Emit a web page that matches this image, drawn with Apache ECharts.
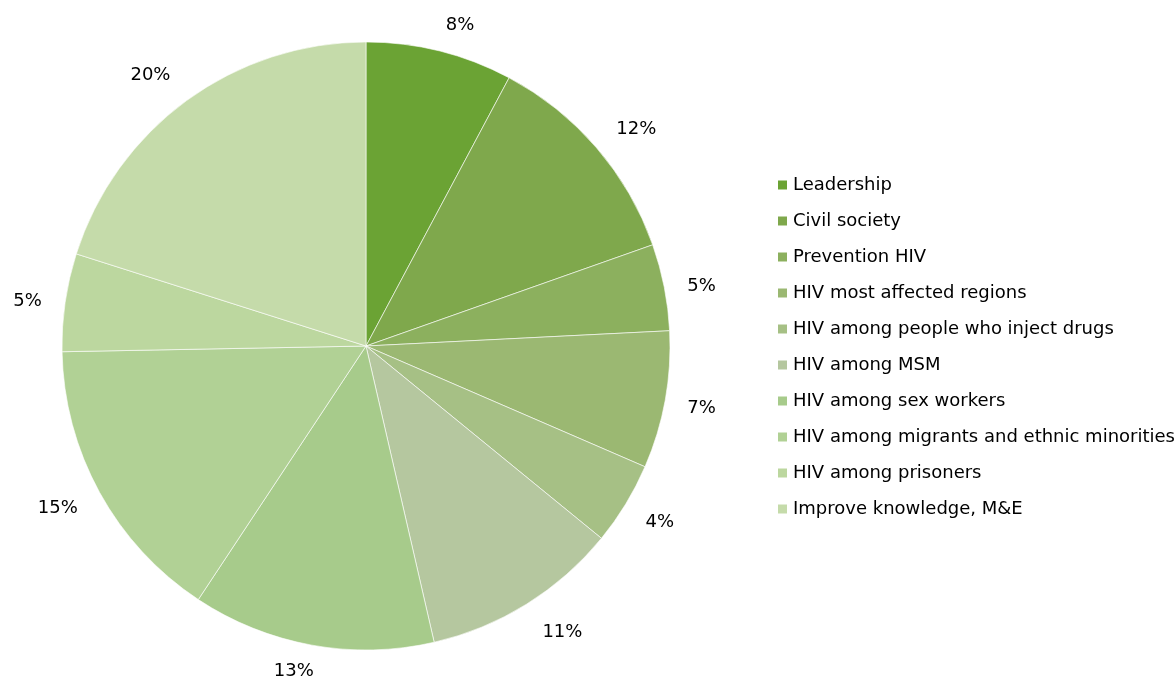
<!DOCTYPE html>
<html>
<head>
<meta charset="utf-8">
<script src="https://cdn.jsdelivr.net/npm/echarts@6/dist/echarts.min.js"></script>
<style>
  html, body { margin: 0; padding: 0; background: #fff; }
  #chart { width: 1176px; height: 681px; }
</style>
</head>
<body>
<div id="chart"></div>
<script>
// categories and shares (in %)
var categories = [
  'Leadership',
  'Civil society',
  'Prevention HIV',
  'HIV most affected regions',
  'HIV among people who inject drugs',
  'HIV among MSM',
  'HIV among sex workers',
  'HIV among migrants and ethnic minorities',
  'HIV among prisoners',
  'Improve knowledge, M&E'
];
var shares = [7.8, 11.8, 4.6, 7.3, 4.4, 10.5, 12.9, 15.4, 5.2, 20.1];
var colors = ['#6ba334', '#7fa84c', '#8cb05e', '#9bb872', '#a6c085',
              '#b5c79f', '#a7cb8b', '#b1d195', '#bcd79f', '#c5dbaa'];
// small nudges of the % labels, the original placed them a bit irregularly
var labelNudge = [[12, 7], [14, 4], [4, 6], [3, 2], [5, 1],
                  [18, -1], [-12, -7], [-12, -1], [-4, 4], [-16, 2]];

var center = [366, 346];

var pieData = categories.map(function (name, i) {
  return { name: name, value: shares[i] };
});
var labelData = categories.map(function (name, i) {
  return { name: name, value: shares[i], label: { offset: labelNudge[i] } };
});

var option = {
  color: colors,
  textStyle: { fontFamily: 'DejaVu Sans' },
  legend: {
    orient: 'vertical',
    left: 771,
    top: 171,
    itemWidth: 11,
    itemHeight: 11,
    itemGap: 18,
    icon: 'rect',
    textStyle: { fontSize: 18, color: '#000' },
    data: categories
  },
  series: [
    {
      type: 'pie',
      center: center,
      radius: 304,
      startAngle: 90,
      clockwise: true,
      animation: false,
      itemStyle: { borderColor: '#fff', borderWidth: 0.6 },
      label: { show: false },
      labelLine: { show: false },
      data: pieData
    },
    // invisible ring just outside the pie, only to place centred % labels
    {
      type: 'pie',
      center: center,
      radius: [322, 348],
      startAngle: 90,
      clockwise: true,
      animation: false,
      silent: true,
      legendHoverLink: false,
      itemStyle: { color: 'rgba(0,0,0,0)', borderWidth: 0 },
      label: {
        show: true,
        position: 'inside',
        fontSize: 18,
        color: '#000',
        formatter: function (p) { return Math.round(p.percent) + '%'; }
      },
      labelLine: { show: false },
      data: labelData
    }
  ]
};

var chart = echarts.init(document.getElementById('chart'));
chart.setOption(option);
</script>
</body>
</html>
